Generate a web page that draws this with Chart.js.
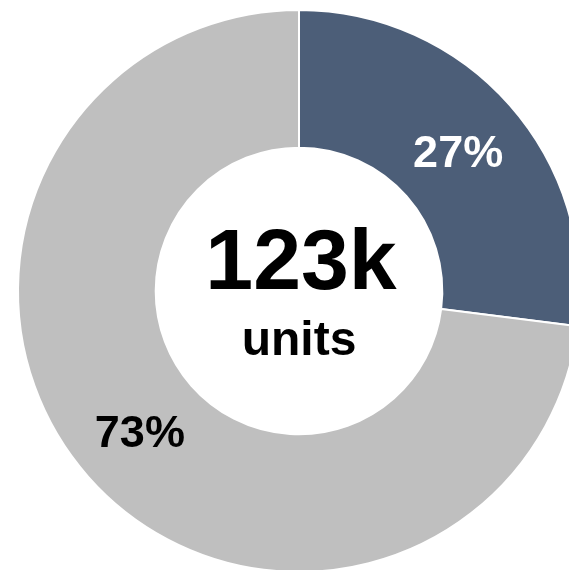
<!DOCTYPE html>
<html>
<head>
<meta charset="utf-8">
<script src="https://cdn.jsdelivr.net/npm/chart.js@4/dist/chart.umd.min.js"></script>
<style>
  html, body { margin: 0; padding: 0; background: #fff; overflow: hidden; }
  #wrap { width: 569px; height: 570px; overflow: hidden; position: relative; }
  canvas { position: absolute; left: 0; top: 0; }
</style>
</head>
<body>
<div id="wrap"><canvas id="donut" width="598" height="582"></canvas></div>
<script>
const segments = ['Share A', 'Share B'];
const shares = [27, 73];
const segmentColors = ['#4C5E78', '#BFBFBF'];
const labelColors = ['#FFFFFF', '#000000'];
const totalLabel = '123k';
const unitLabel = 'units';

const FONT = '"Liberation Sans", Arial, Helvetica, sans-serif';

// percentage on each slice, at the slice's centroid
const sliceLabels = {
  id: 'sliceLabels',
  afterDatasetsDraw(chart) {
    const { ctx } = chart;
    const meta = chart.getDatasetMeta(0);
    ctx.save();
    ctx.font = `bold 45px ${FONT}`;
    ctx.textAlign = 'center';
    ctx.textBaseline = 'alphabetic';
    meta.data.forEach((arc, i) => {
      const p = arc.tooltipPosition();
      ctx.fillStyle = labelColors[i];
      ctx.fillText(shares[i] + '%', p.x, p.y + 16);
    });
    ctx.restore();
  }
};

// total in the hole
const centerText = {
  id: 'centerText',
  afterDraw(chart) {
    const { ctx } = chart;
    const arc = chart.getDatasetMeta(0).data[0];
    const cx = arc.x, cy = arc.y;
    ctx.save();
    ctx.textAlign = 'center';
    ctx.textBaseline = 'alphabetic';
    ctx.fillStyle = '#000';
    ctx.font = `bold 86px ${FONT}`;
    ctx.fillText(totalLabel, cx + 2, cy - 2);
    ctx.font = `bold 48px ${FONT}`;
    ctx.fillText(unitLabel, cx, cy + 64);
    ctx.restore();
  }
};

new Chart(document.getElementById('donut').getContext('2d'), {
  type: 'doughnut',
  data: {
    labels: segments,
    datasets: [{
      data: shares,
      backgroundColor: segmentColors,
      borderColor: '#FFFFFF',
      borderWidth: 2,
      hoverOffset: 0
    }]
  },
  options: {
    responsive: false,
    animation: false,
    cutout: '51%',
    layout: { padding: { top: 9, bottom: 9, left: 17, right: 17 } },
    plugins: {
      legend: { display: false },
      tooltip: { enabled: false }
    }
  },
  plugins: [sliceLabels, centerText]
});
</script>
</body>
</html>
